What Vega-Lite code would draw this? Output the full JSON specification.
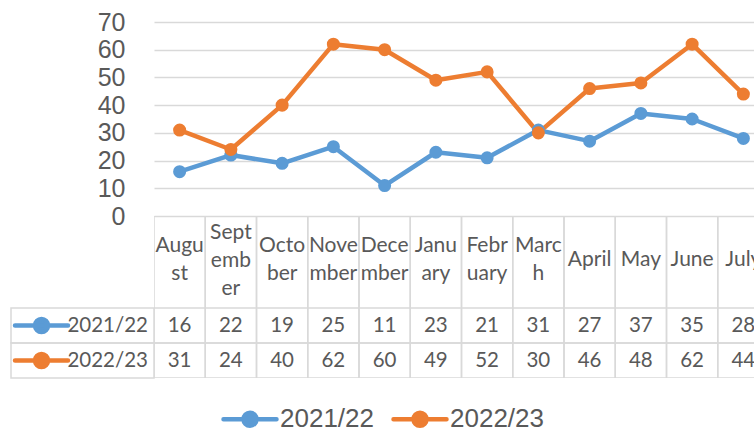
{
  "$schema": "https://vega.github.io/schema/vega-lite/v6.json",
  "padding": {"left": 6, "top": 10, "right": 0, "bottom": 0},
  "background": "white",
  "datasets": {
    "vals": [
      {"month": "August", "series": "2021/22", "value": 16},
      {"month": "September", "series": "2021/22", "value": 22},
      {"month": "October", "series": "2021/22", "value": 19},
      {"month": "November", "series": "2021/22", "value": 25},
      {"month": "December", "series": "2021/22", "value": 11},
      {"month": "January", "series": "2021/22", "value": 23},
      {"month": "February", "series": "2021/22", "value": 21},
      {"month": "March", "series": "2021/22", "value": 31},
      {"month": "April", "series": "2021/22", "value": 27},
      {"month": "May", "series": "2021/22", "value": 37},
      {"month": "June", "series": "2021/22", "value": 35},
      {"month": "July", "series": "2021/22", "value": 28},
      {"month": "August", "series": "2022/23", "value": 31},
      {"month": "September", "series": "2022/23", "value": 24},
      {"month": "October", "series": "2022/23", "value": 40},
      {"month": "November", "series": "2022/23", "value": 62},
      {"month": "December", "series": "2022/23", "value": 60},
      {"month": "January", "series": "2022/23", "value": 49},
      {"month": "February", "series": "2022/23", "value": 52},
      {"month": "March", "series": "2022/23", "value": 30},
      {"month": "April", "series": "2022/23", "value": 46},
      {"month": "May", "series": "2022/23", "value": 48},
      {"month": "June", "series": "2022/23", "value": 62},
      {"month": "July", "series": "2022/23", "value": 44}
    ],
    "months": [
      {"month": "August", "label": "Augu\nst"},
      {"month": "September", "label": "Sept\nemb\ner"},
      {"month": "October", "label": "Octo\nber"},
      {"month": "November", "label": "Nove\nmber"},
      {"month": "December", "label": "Dece\nmber"},
      {"month": "January", "label": "Janu\nary"},
      {"month": "February", "label": "Febr\nuary"},
      {"month": "March", "label": "Marc\nh"},
      {"month": "April", "label": "April"},
      {"month": "May", "label": "May"},
      {"month": "June", "label": "June"},
      {"month": "July", "label": "July"}
    ],
    "series": [
      {"series": "2021/22"},
      {"series": "2022/23"}
    ]
  },
  "columns": 2,
  "spacing": 0,
  "align": "each",
  "bounds": "flush",
  "concat": [
    {
      "width": 143, "height": 194,
      "data": {"values": []},
      "mark": "text"
    },
    {
      "width": 600, "height": 194,
      "data": {"name": "vals"},
      "encoding": {
        "x": {"field": "month", "type": "ordinal",
              "sort": ["August","September","October","November","December","January","February","March","April","May","June","July"],
              "scale": {"type": "point", "padding": 0.5, "range": [0, 615]}, "axis": null},
        "y": {"field": "value", "type": "quantitative", "scale": {"domain": [0, 70]},
              "axis": {"values": [0,10,20,30,40,50,60,70], "title": null, "grid": true, "gridColor": "#D9D9D9", "gridWidth": 1.5,
                       "domain": false, "ticks": false, "labelFont": "Liberation Sans", "labelFontSize": 25, "labelColor": "#595959", "labelPadding": 29}},
        "color": {"field": "series", "type": "nominal",
                  "scale": {"domain": ["2021/22", "2022/23"], "range": ["#5B9BD5", "#ED7D31"]},
                  "legend": {"orient": "none", "legendX": 210, "legendY": 368, "direction": "horizontal", "title": null,
                             "symbolType": "M-1,0L1,0M-0.245,0A0.245,0.245,0,1,0,0.245,0A0.245,0.245,0,1,0,-0.245,0Z",
                             "symbolSize": 2809, "symbolStrokeWidth": 4.5,
                             "labelFont": "Liberation Sans", "labelFontSize": 26, "labelColor": "#595959", "labelOffset": 1,
                             "columnPadding": 10, "padding": 0,
                             "encode": {"symbols": {"update": {
                               "fill": {"scale": "color", "field": "value"},
                               "stroke": {"scale": "color", "field": "value"},
                               "strokeWidth": {"value": 4.5},
                               "strokeCap": {"value": "round"},
                               "size": {"value": 2809},
                               "shape": {"value": "M-1,0L1,0M-0.245,0A0.245,0.245,0,1,0,0.245,0A0.245,0.245,0,1,0,-0.245,0Z"},
                               "opacity": {"value": 1}
                             }}}}}
      },
      "layer": [
        {"mark": {"type": "line", "strokeWidth": 4.5, "strokeCap": "round", "strokeJoin": "round"}},
        {"mark": {"type": "point", "filled": true, "size": 170, "opacity": 1}}
      ]
    },
    {
      "width": 143, "height": 92,
      "data": {"values": []},
      "mark": "text"
    },
    {
      "width": 600, "height": 92,
      "data": {"name": "months"},
      "encoding": {
        "x": {"field": "month", "type": "nominal",
              "sort": ["August","September","October","November","December","January","February","March","April","May","June","July"],
              "scale": {"type": "band", "range": [0, 615], "paddingInner": 0, "paddingOuter": 0}, "axis": null}
      },
      "layer": [
        {"mark": {"type": "rect", "fill": "white", "fillOpacity": 0, "stroke": "#D9D9D9", "strokeWidth": 1.5, "clip": true}},
        {"transform": [{"filter": "length(split(datum.label, '\\n')) == 1"}],
         "mark": {"type": "text", "font": "Lato", "fontSize": 21, "color": "#595959", "lineBreak": "\n", "lineHeight": 28, "baseline": "middle", "dy": -2, "clip": true},
         "encoding": {"text": {"field": "label"}}},
        {"transform": [{"filter": "length(split(datum.label, '\\n')) == 2"}],
         "mark": {"type": "text", "font": "Lato", "fontSize": 21, "color": "#595959", "lineBreak": "\n", "lineHeight": 28, "baseline": "middle", "dy": -16, "clip": true},
         "encoding": {"text": {"field": "label"}}},
        {"transform": [{"filter": "length(split(datum.label, '\\n')) == 3"}],
         "mark": {"type": "text", "font": "Lato", "fontSize": 21, "color": "#595959", "lineBreak": "\n", "lineHeight": 28, "baseline": "middle", "dy": -29, "clip": true},
         "encoding": {"text": {"field": "label"}}}
      ]
    },
    {
      "width": 143, "height": 70,
      "data": {"name": "series"},
      "encoding": {
        "y": {"field": "series", "type": "nominal", "scale": {"type": "band", "paddingInner": 0, "paddingOuter": 0}, "axis": null}
      },
      "layer": [
        {"mark": {"type": "rect", "fill": "white", "fillOpacity": 0, "stroke": "#D9D9D9", "strokeWidth": 1.5}},
        {"mark": {"type": "text", "font": "Lato", "fontSize": 20.5, "color": "#595959", "align": "right", "dx": -6, "baseline": "middle"},
         "encoding": {"text": {"field": "series"}, "x": {"value": "width"}}},
        {"mark": {"type": "point", "shape": "M-5.245,0L-3.245,0M-4.49,0A0.245,0.245,0,1,0,-4,0A0.245,0.245,0,1,0,-4.49,0Z",
                  "size": 2809, "filled": true, "strokeWidth": 4.5, "strokeCap": "round", "opacity": 1},
         "encoding": {
           "x": {"value": "width"},
           "fill": {"field": "series", "type": "nominal", "scale": {"domain": ["2021/22", "2022/23"], "range": ["#5B9BD5", "#ED7D31"]}, "legend": null},
           "stroke": {"field": "series", "type": "nominal", "scale": {"domain": ["2021/22", "2022/23"], "range": ["#5B9BD5", "#ED7D31"]}, "legend": null}
         }}
      ]
    },
    {
      "width": 600, "height": 70,
      "data": {"name": "vals"},
      "encoding": {
        "x": {"field": "month", "type": "nominal",
              "sort": ["August","September","October","November","December","January","February","March","April","May","June","July"],
              "scale": {"type": "band", "range": [0, 615], "paddingInner": 0, "paddingOuter": 0}, "axis": null},
        "y": {"field": "series", "type": "nominal", "scale": {"type": "band", "paddingInner": 0, "paddingOuter": 0}, "axis": null}
      },
      "layer": [
        {"mark": {"type": "rect", "fill": "white", "fillOpacity": 0, "stroke": "#D9D9D9", "strokeWidth": 1.5, "clip": true}},
        {"mark": {"type": "text", "font": "Lato", "fontSize": 20.5, "color": "#595959", "baseline": "middle", "clip": true},
         "encoding": {"text": {"field": "value"}}}
      ]
    }
  ],
  "config": {
    "view": {"stroke": null},
    "font": "Liberation Sans"
  }
}
